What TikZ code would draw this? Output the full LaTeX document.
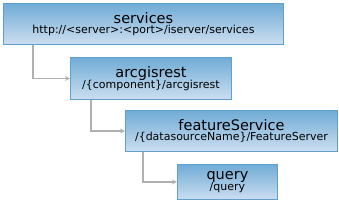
\documentclass[tikz,border=0pt]{standalone}
\usepackage{fontspec}
\setmainfont{DejaVu Sans}
\usetikzlibrary{arrows.meta, positioning}
\definecolor{restblue}{RGB}{112,172,214}
\definecolor{restpale}{RGB}{204,222,240}
\definecolor{restedge}{RGB}{96,160,204}
\definecolor{linkgray}{RGB}{176,176,176}
\tikzset{
    resblock/.style={rectangle, draw=restedge, top color=restblue, bottom color=restpale, line width=0.9pt, anchor=north west, align=center, inner sep=0pt, minimum height=#1},
    reslink/.style={-{Stealth[length=5pt, width=5pt]}, draw=linkgray, line width=1.4pt}
}
\newcommand{\restitle}[2]{{\fontsize{14.5}{15}\selectfont #1}\\[-1.5pt]{\fontsize{11}{12}\selectfont #2}}
\begin{document}
\begin{tikzpicture}[x=1pt, y=-1pt]
\useasboundingbox (0,0) rectangle (339,201);

\node[resblock=41pt, minimum width=280pt] (services) at (3,3) {\restitle{services}{http://<server>:<port>/iserver/services}};
\node[resblock=42pt, minimum width=161pt] (arcgisrest) at (70,57) {\restitle{arcgisrest}{/\{component\}/arcgisrest}};
\node[resblock=41pt, minimum width=212pt] (featureService) at (125,110) {\restitle{featureService}{/\{datasourceName\}/FeatureServer}};
\node[resblock=35pt, minimum width=100pt] (query) at (177,164) {\restitle{query}{/query}};

\draw[reslink] ([xshift=30pt]services.south west) |- (arcgisrest.west);
\draw[reslink] ([xshift=21pt]arcgisrest.south west) |- (featureService.west);
\draw[reslink] ([xshift=18pt]featureService.south west) |- (query.west);

\end{tikzpicture}
\end{document}
